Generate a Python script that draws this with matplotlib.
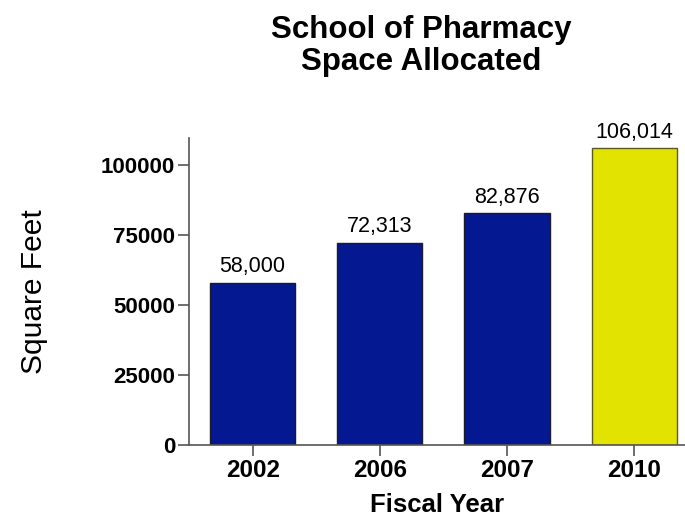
import matplotlib
matplotlib.use("Agg")
import matplotlib.pyplot as plt

# Space allocated to the School of Pharmacy by fiscal year
years = ["2002", "2006", "2007", "2010"]
square_feet = [58000, 72313, 82876, 106014]
bar_colors = ["#041892", "#041892", "#041892", "#E3E300"]
edge_colors = ["#1a1a2a", "#1a1a2a", "#1a1a2a", "#5a5a20"]
yticks = [0, 25000, 50000, 75000, 100000]

plt.rcParams["font.family"] = ["Liberation Sans", "DejaVu Sans"]

fig = plt.figure(figsize=(6.85, 5.19), dpi=100)
ax = fig.add_axes([0.276, 0.1426, 0.724, 0.5915])

x = list(range(len(years)))
bars = ax.bar(x, square_feet, width=0.67, color=bar_colors,
              edgecolor=edge_colors, linewidth=1.0, zorder=2)

for xi, v in zip(x, square_feet):
    ax.annotate(f"{v:,}", (xi, v), xytext=(0, 4), textcoords="offset points",
                ha="center", va="bottom", fontsize=15.5)

ax.set_xlim(-0.5, 3.4)
ax.set_ylim(0, 109700)
ax.set_xticks(x)
ax.set_xticklabels(years, fontsize=17.5, fontweight="bold")
ax.set_yticks(yticks)
ax.set_yticklabels([str(t) for t in yticks], fontsize=16, fontweight="bold")

for side in ("top", "right"):
    ax.spines[side].set_visible(False)
for side in ("left", "bottom"):
    ax.spines[side].set_color("#555555")
    ax.spines[side].set_linewidth(1.2)
ax.tick_params(axis="both", direction="out", length=8, width=1.2,
               color="#555555", pad=2)

ax.set_xlabel("Fiscal Year", fontsize=18.5, fontweight="bold", labelpad=8)
ax.set_ylabel("Square Feet", fontsize=21.5, labelpad=38)

fig.text(0.615, 0.972, "School of Pharmacy\nSpace Allocated", ha="center",
         va="top", fontsize=22.5, fontweight="bold", linespacing=1.1)

fig.savefig("out.png", dpi=100)
